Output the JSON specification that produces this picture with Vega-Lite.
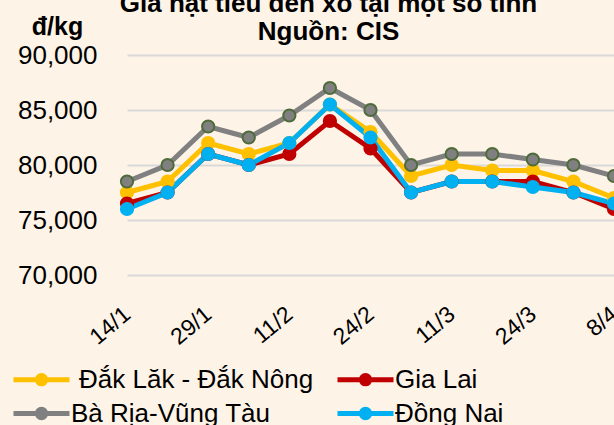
{
  "$schema": "https://vega.github.io/schema/vega-lite/v6.json",
  "width": 487,
  "height": 220,
  "autosize": "none",
  "padding": {"left": 127, "top": 55, "right": 0, "bottom": 150},
  "background": "#FDF3E7",
  "title": {
    "text": ["Giá hạt tiêu đen xô tại một số tỉnh", "Nguồn: CIS"],
    "anchor": "middle",
    "frame": "group",
    "dx": -42,
    "dy": 49,
    "font": "Liberation Sans",
    "fontSize": 26,
    "fontWeight": "bold",
    "color": "#000000",
    "lineHeight": 28,
    "offset": 18
  },
  "config": {
    "view": {"stroke": null},
    "font": "Liberation Sans"
  },
  "data": {
    "values": [
      {"d": "14/1", "s": "Đắk Lăk - Đắk Nông", "v": 77500},
      {"d": "21/1", "s": "Đắk Lăk - Đắk Nông", "v": 78500},
      {"d": "29/1", "s": "Đắk Lăk - Đắk Nông", "v": 82000},
      {"d": "4/2", "s": "Đắk Lăk - Đắk Nông", "v": 81000},
      {"d": "11/2", "s": "Đắk Lăk - Đắk Nông", "v": 82000},
      {"d": "18/2", "s": "Đắk Lăk - Đắk Nông", "v": 85500},
      {"d": "24/2", "s": "Đắk Lăk - Đắk Nông", "v": 83000},
      {"d": "4/3", "s": "Đắk Lăk - Đắk Nông", "v": 79000},
      {"d": "11/3", "s": "Đắk Lăk - Đắk Nông", "v": 80000},
      {"d": "18/3", "s": "Đắk Lăk - Đắk Nông", "v": 79500},
      {"d": "24/3", "s": "Đắk Lăk - Đắk Nông", "v": 79500},
      {"d": "1/4", "s": "Đắk Lăk - Đắk Nông", "v": 78500},
      {"d": "8/4", "s": "Đắk Lăk - Đắk Nông", "v": 77000},
      {"d": "14/1", "s": "Gia Lai", "v": 76500},
      {"d": "21/1", "s": "Gia Lai", "v": 77500},
      {"d": "29/1", "s": "Gia Lai", "v": 81000},
      {"d": "4/2", "s": "Gia Lai", "v": 80000},
      {"d": "11/2", "s": "Gia Lai", "v": 81000},
      {"d": "18/2", "s": "Gia Lai", "v": 84000},
      {"d": "24/2", "s": "Gia Lai", "v": 81500},
      {"d": "4/3", "s": "Gia Lai", "v": 77500},
      {"d": "11/3", "s": "Gia Lai", "v": 78500},
      {"d": "18/3", "s": "Gia Lai", "v": 78500},
      {"d": "24/3", "s": "Gia Lai", "v": 78500},
      {"d": "1/4", "s": "Gia Lai", "v": 77500},
      {"d": "8/4", "s": "Gia Lai", "v": 76000},
      {"d": "14/1", "s": "Bà Rịa-Vũng Tàu", "v": 78500},
      {"d": "21/1", "s": "Bà Rịa-Vũng Tàu", "v": 80000},
      {"d": "29/1", "s": "Bà Rịa-Vũng Tàu", "v": 83500},
      {"d": "4/2", "s": "Bà Rịa-Vũng Tàu", "v": 82500},
      {"d": "11/2", "s": "Bà Rịa-Vũng Tàu", "v": 84500},
      {"d": "18/2", "s": "Bà Rịa-Vũng Tàu", "v": 87000},
      {"d": "24/2", "s": "Bà Rịa-Vũng Tàu", "v": 85000},
      {"d": "4/3", "s": "Bà Rịa-Vũng Tàu", "v": 80000},
      {"d": "11/3", "s": "Bà Rịa-Vũng Tàu", "v": 81000},
      {"d": "18/3", "s": "Bà Rịa-Vũng Tàu", "v": 81000},
      {"d": "24/3", "s": "Bà Rịa-Vũng Tàu", "v": 80500},
      {"d": "1/4", "s": "Bà Rịa-Vũng Tàu", "v": 80000},
      {"d": "8/4", "s": "Bà Rịa-Vũng Tàu", "v": 79000},
      {"d": "14/1", "s": "Đồng Nai", "v": 76000},
      {"d": "21/1", "s": "Đồng Nai", "v": 77500},
      {"d": "29/1", "s": "Đồng Nai", "v": 81000},
      {"d": "4/2", "s": "Đồng Nai", "v": 80000},
      {"d": "11/2", "s": "Đồng Nai", "v": 82000},
      {"d": "18/2", "s": "Đồng Nai", "v": 85500},
      {"d": "24/2", "s": "Đồng Nai", "v": 82500},
      {"d": "4/3", "s": "Đồng Nai", "v": 77500},
      {"d": "11/3", "s": "Đồng Nai", "v": 78500},
      {"d": "18/3", "s": "Đồng Nai", "v": 78500},
      {"d": "24/3", "s": "Đồng Nai", "v": 78000},
      {"d": "1/4", "s": "Đồng Nai", "v": 77500},
      {"d": "8/4", "s": "Đồng Nai", "v": 76500}
    ]
  },
  "encoding": {
    "x": {
      "field": "d",
      "type": "ordinal",
      "sort": null,
      "scale": {"type": "point", "padding": 0},
      "axis": {
        "title": null,
        "values": ["14/1", "29/1", "11/2", "24/2", "11/3", "24/3", "8/4"],
        "domain": false,
        "ticks": false,
        "grid": false,
        "labelAngle": -40,
        "labelAlign": "right",
        "labelBaseline": "middle",
        "labelPadding": 36,
        "labelFont": "Liberation Sans",
        "labelFontSize": 23,
        "labelColor": "#000000",
        "labelOverlap": false
      }
    },
    "y": {
      "field": "v",
      "type": "quantitative",
      "scale": {"domain": [70000, 90000], "nice": false, "zero": false},
      "axis": {
        "values": [70000, 75000, 80000, 85000, 90000],
        "format": ",d",
        "title": "đ/kg",
        "titleAngle": 0,
        "titleX": -70,
        "titleY": -21,
        "titleAlign": "center",
        "titleBaseline": "alphabetic",
        "titleFont": "Liberation Sans",
        "titleFontSize": 25,
        "titleFontWeight": "bold",
        "titleColor": "#000000",
        "domain": false,
        "ticks": false,
        "labelPadding": 30,
        "labelFont": "Liberation Sans",
        "labelFontSize": 26,
        "labelColor": "#000000",
        "gridColor": "#D9D9D9",
        "gridWidth": 2
      }
    },
    "color": {
      "field": "s",
      "type": "nominal",
      "scale": {
        "domain": ["Đắk Lăk - Đắk Nông", "Gia Lai", "Bà Rịa-Vũng Tàu", "Đồng Nai"],
        "range": ["#FFC000", "#C00000", "#808080", "#00B0F0"]
      },
      "legend": {
        "title": null,
        "orient": "none",
        "legendX": -102,
        "legendY": 308,
        "direction": "horizontal",
        "columns": 2,
        "columnPadding": 13,
        "rowPadding": 3,
        "padding": 0,
        "symbolType": "M-2,0H2M0.3,0A0.3,0.3 0 1 1 -0.3,0A0.3,0.3 0 1 1 0.3,0Z",
        "symbolSize": 784,
        "symbolStrokeWidth": 5,
        "symbolOpacity": 1,
        "labelOffset": 13,
        "labelFont": "Liberation Sans",
        "labelFontSize": 26,
        "labelColor": "#000000",
        "labelLimit": 400,
        "encode": {
          "symbols": {
            "update": {
              "fill": {"scale": "color", "field": "value"},
              "stroke": {"scale": "color", "field": "value"},
              "opacity": {"value": 1}
            }
          },
          "labels": {
            "update": {
              "dx": {"signal": "datum.index === 0 ? 8 : 0"}
            }
          }
        }
      }
    }
  },
  "layer": [
    {"mark": {"type": "line", "strokeWidth": 5}},
    {
      "mark": {"type": "point", "filled": true, "size": 150, "opacity": 1, "strokeWidth": 2},
      "encoding": {
        "stroke": {
          "field": "s",
          "type": "nominal",
          "scale": {
            "domain": ["Đắk Lăk - Đắk Nông", "Gia Lai", "Bà Rịa-Vũng Tàu", "Đồng Nai"],
            "range": ["#FFC000", "#C00000", "#4F6B3B", "#00B0F0"]
          },
          "legend": null
        }
      }
    }
  ]
}
